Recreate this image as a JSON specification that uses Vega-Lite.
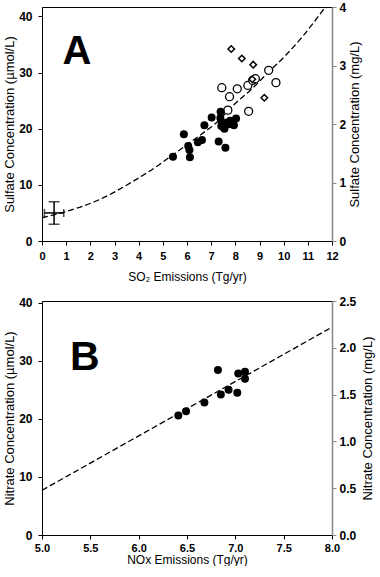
{
  "$schema": "https://vega.github.io/schema/vega-lite/v6.json",
  "padding": {"left": 3, "top": 0, "right": 0, "bottom": 0},
  "spacing": 11,
  "config": {
    "font": "Liberation Sans",
    "view": {"stroke": "#000", "strokeWidth": 1},
    "axis": {"grid": false, "domainColor": "#000", "tickColor": "#000", "tickSize": 4, "labelColor": "#000", "titleColor": "#000", "labelFontWeight": "bold", "titleFontWeight": "normal", "labelFlush": false, "labelOverlap": false}
  },
  "datasets": {
    "filledA": [
      {"x": 5.42, "y": 15.0}, {"x": 5.87, "y": 19.0}, {"x": 6.05, "y": 16.9}, {"x": 6.1, "y": 16.2},
      {"x": 6.12, "y": 14.9}, {"x": 6.45, "y": 17.6}, {"x": 6.62, "y": 18.0}, {"x": 6.72, "y": 20.6},
      {"x": 7.02, "y": 22.0}, {"x": 7.31, "y": 17.7}, {"x": 7.39, "y": 23.0}, {"x": 7.38, "y": 21.9},
      {"x": 7.44, "y": 21.1}, {"x": 7.5, "y": 20.3}, {"x": 7.55, "y": 20.0}, {"x": 7.59, "y": 16.6},
      {"x": 7.66, "y": 21.1}, {"x": 7.79, "y": 21.4}, {"x": 7.94, "y": 20.6}, {"x": 8.03, "y": 21.8},
      {"x": 7.42, "y": 20.5}, {"x": 7.72, "y": 20.8}
    ],
    "openA": [
      {"x": 7.44, "y": 27.3}, {"x": 7.76, "y": 25.7}, {"x": 7.69, "y": 23.3}, {"x": 8.08, "y": 27.1},
      {"x": 8.52, "y": 27.7}, {"x": 8.55, "y": 23.1}, {"x": 8.72, "y": 28.6}, {"x": 8.83, "y": 28.9},
      {"x": 9.38, "y": 30.4}, {"x": 9.68, "y": 28.2}
    ],
    "diamondA": [
      {"x": 7.83, "y": 34.2}, {"x": 8.27, "y": 32.5}, {"x": 8.74, "y": 31.4}, {"x": 8.7, "y": 28.8}, {"x": 9.2, "y": 25.5}
    ],
    "curveA": [
      {"x": 0.0, "y": 4.14}, {"x": 0.95, "y": 5.2}, {"x": 2.34, "y": 7.3}, {"x": 3.72, "y": 10.5},
      {"x": 4.82, "y": 13.5}, {"x": 5.37, "y": 15.2}, {"x": 6.62, "y": 19.1}, {"x": 7.17, "y": 20.9},
      {"x": 8.0, "y": 24.5}, {"x": 8.69, "y": 27.1}, {"x": 9.38, "y": 30.1}, {"x": 10.07, "y": 33.0},
      {"x": 10.76, "y": 36.3}, {"x": 11.72, "y": 41.65}
    ],
    "errA": [{"x": 0.5, "y": 5.0, "xlo": 0.1, "xhi": 0.9, "ylo": 3.0, "yhi": 7.0}],
    "pointsB": [
      {"x": 6.41, "y": 20.6}, {"x": 6.49, "y": 21.3}, {"x": 6.68, "y": 22.8}, {"x": 6.82, "y": 28.4},
      {"x": 6.85, "y": 24.2}, {"x": 6.93, "y": 25.0}, {"x": 7.02, "y": 24.5}, {"x": 7.03, "y": 27.8},
      {"x": 7.1, "y": 28.1}, {"x": 7.1, "y": 26.9}
    ],
    "lineB": [{"x": 5.0, "y": 7.7}, {"x": 8.0, "y": 35.8}]
  },
  "vconcat": [
    {
      "width": 290,
      "height": 234,
      "resolve": {"scale": {"y": "independent"}},
      "layer": [
        {
          "encoding": {
            "x": {"type": "quantitative", "scale": {"domain": [0, 12], "nice": false},
                  "axis": {"values": [0,1,2,3,4,5,6,7,8,9,10,11,12], "labelOverlap": false, "title": "SO₂ Emissions (Tg/yr)", "labelFontSize": 11, "titleFontSize": 12, "labelPadding": 5, "titlePadding": 10}},
            "y": {"type": "quantitative", "scale": {"domain": [0, 41.67], "nice": false},
                  "axis": {"values": [0,10,20,30,40], "title": "Sulfate Concentration (µmol/L)", "labelFontSize": 12, "titleFontSize": 13, "labelPadding": 6, "titlePadding": 2}}
          },
          "layer": [
            {"data": {"name": "curveA"}, "mark": {"type": "line", "interpolate": "monotone", "color": "#000", "strokeWidth": 1.3, "strokeDash": [6, 3]},
             "encoding": {"x": {"field": "x"}, "y": {"field": "y"}}},
            {"data": {"name": "errA"}, "mark": {"type": "rule", "color": "#000", "strokeWidth": 1.5},
             "encoding": {"x": {"field": "xlo"}, "x2": {"field": "xhi"}, "y": {"field": "y"}}},
            {"data": {"name": "errA"}, "mark": {"type": "rule", "color": "#000", "strokeWidth": 1.5},
             "encoding": {"x": {"field": "x"}, "y": {"field": "ylo"}, "y2": {"field": "yhi"}}},
            {"data": {"name": "errA"}, "mark": {"type": "tick", "orient": "vertical", "color": "#000", "size": 8, "thickness": 1.5},
             "encoding": {"x": {"field": "xlo"}, "y": {"field": "y"}}},
            {"data": {"name": "errA"}, "mark": {"type": "tick", "orient": "vertical", "color": "#000", "size": 8, "thickness": 1.5},
             "encoding": {"x": {"field": "xhi"}, "y": {"field": "y"}}},
            {"data": {"name": "errA"}, "mark": {"type": "tick", "orient": "horizontal", "color": "#000", "size": 11, "thickness": 1.5},
             "encoding": {"x": {"field": "x"}, "y": {"field": "ylo"}}},
            {"data": {"name": "errA"}, "mark": {"type": "tick", "orient": "horizontal", "color": "#000", "size": 11, "thickness": 1.5},
             "encoding": {"x": {"field": "x"}, "y": {"field": "yhi"}}},
            {"data": {"name": "openA"}, "mark": {"type": "point", "shape": "circle", "filled": false, "fill": "#fff", "fillOpacity": 1, "stroke": "#000", "strokeWidth": 1.3, "size": 64, "opacity": 1},
             "encoding": {"x": {"field": "x"}, "y": {"field": "y"}}},
            {"data": {"name": "diamondA"}, "mark": {"type": "point", "shape": "diamond", "filled": false, "fill": "#fff", "fillOpacity": 1, "stroke": "#000", "strokeWidth": 1.5, "size": 42, "opacity": 1},
             "encoding": {"x": {"field": "x"}, "y": {"field": "y"}}},
            {"data": {"name": "filledA"}, "mark": {"type": "circle", "color": "#000", "size": 64, "opacity": 1},
             "encoding": {"x": {"field": "x"}, "y": {"field": "y"}}},
            {"data": {"values": [{"label": "A"}]}, "mark": {"type": "text", "font": "Liberation Sans", "fontWeight": "bold", "fontSize": 40, "align": "left", "baseline": "alphabetic", "color": "#000"},
             "encoding": {"x": {"datum": 0.85}, "y": {"datum": 31.5}, "text": {"field": "label"}}}
          ]
        },
        {
          "data": {"values": [{"v": 0}]},
          "mark": {"type": "point", "opacity": 0},
          "encoding": {
            "y": {"field": "v", "type": "quantitative", "scale": {"domain": [0, 4], "nice": false},
                  "axis": {"orient": "right", "values": [0,1,2,3,4], "title": "Sulfate Concentration (mg/L)", "titleAngle": 270, "titleBaseline": "top", "domainColor": "#888", "domainWidth": 1.5, "tickColor": "#888", "labelFontSize": 12, "titleFontSize": 13, "labelPadding": 3, "titlePadding": 3}}
          }
        }
      ]
    },
    {
      "width": 290,
      "height": 234,
      "resolve": {"scale": {"y": "independent"}},
      "layer": [
        {
          "encoding": {
            "x": {"type": "quantitative", "scale": {"domain": [5, 8], "nice": false},
                  "axis": {"values": [5,5.5,6,6.5,7,7.5,8], "labelOverlap": false, "format": ".1f", "title": "NOx Emissions (Tg/yr)", "labelFontSize": 11, "titleFontSize": 12, "labelPadding": 3, "titlePadding": 1}},
            "y": {"type": "quantitative", "scale": {"domain": [0, 40.3], "nice": false},
                  "axis": {"values": [0,10,20,30,40], "title": "Nitrate Concentration (µmol/L)", "labelFontSize": 12, "titleFontSize": 13, "labelPadding": 6, "titlePadding": 2}}
          },
          "layer": [
            {"data": {"name": "lineB"}, "mark": {"type": "line", "color": "#000", "strokeWidth": 1.3, "strokeDash": [6, 3]},
             "encoding": {"x": {"field": "x"}, "y": {"field": "y"}}},
            {"data": {"name": "pointsB"}, "mark": {"type": "circle", "color": "#000", "size": 64, "opacity": 1},
             "encoding": {"x": {"field": "x"}, "y": {"field": "y"}}},
            {"data": {"values": [{"label": "B"}]}, "mark": {"type": "text", "font": "Liberation Sans", "fontWeight": "bold", "fontSize": 41, "align": "left", "baseline": "alphabetic", "color": "#000"},
             "encoding": {"x": {"datum": 5.29}, "y": {"datum": 28.4}, "text": {"field": "label"}}}
          ]
        },
        {
          "data": {"values": [{"v": 0}]},
          "mark": {"type": "point", "opacity": 0},
          "encoding": {
            "y": {"field": "v", "type": "quantitative", "scale": {"domain": [0, 2.5], "nice": false},
                  "axis": {"orient": "right", "values": [0,0.5,1,1.5,2,2.5], "format": ".1f", "title": "Nitrate Concentration (mg/L)", "titleAngle": 270, "titleBaseline": "top", "domainColor": "#888", "domainWidth": 1.5, "tickColor": "#888", "labelFontSize": 12, "titleFontSize": 13, "labelPadding": 3, "titlePadding": 6}}
          }
        }
      ]
    }
  ]
}
